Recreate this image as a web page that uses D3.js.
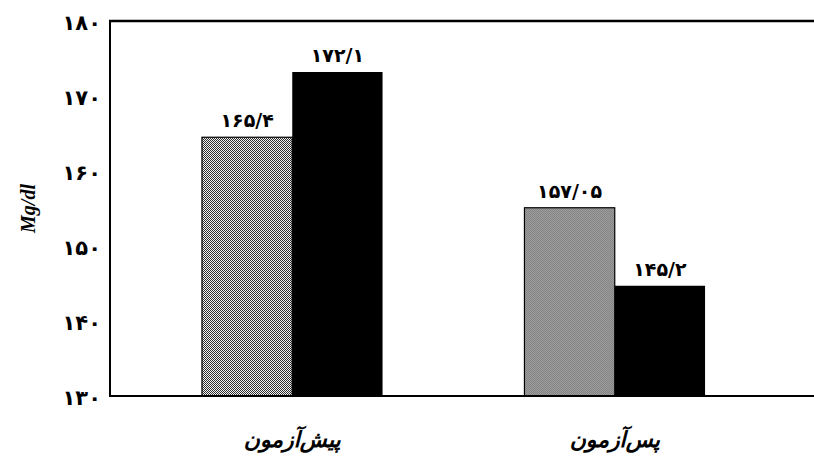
<!DOCTYPE html>
<html>
<head>
<meta charset="utf-8">
<script src="https://cdn.jsdelivr.net/npm/d3@7"></script>
<style>
  body { margin: 0; background: #fff; }
  svg { display: block; }
</style>
</head>
<body>
<svg id="chart"></svg>
<script>
// Chart data
const categories = ["پیش‌آزمون", "پس‌آزمون"];
const series = ["gray", "black"];
// bar heights as drawn in the picture
const grayValues = [164.5, 155.1];
const blackValues = [173.2, 144.7];
// value labels printed above the bars
const grayLabels = ["۱۶۵/۴", "۱۵۷/۰۵"];
const blackLabels = ["۱۷۲/۱", "۱۴۵/۲"];
const yTicks = [130, 140, 150, 160, 170, 180];
const yTickLabels = ["۱۳۰", "۱۴۰", "۱۵۰", "۱۶۰", "۱۷۰", "۱۸۰"];

const W = 814, H = 471;
let margin = {top: 21, right: 0, bottom: 75, left: 110};

let svg = d3.select("#chart").attr("width", W).attr("height", H);

// patterned gray fill
let defs = svg.append("defs");
let pat = defs.append("pattern")
    .attr("id", "dots")
    .attr("width", 2).attr("height", 2)
    .attr("patternUnits", "userSpaceOnUse");
pat.append("rect").attr("width", 2).attr("height", 2).attr("fill", "#fff");
pat.append("rect").attr("width", 1).attr("height", 1).attr("fill", "#222");
pat.append("rect").attr("x", 1).attr("y", 1).attr("width", 1).attr("height", 1).attr("fill", "#222");

// Scales
let y = d3.scaleLinear().domain([130, 180]).range([H - margin.bottom, margin.top]);
let x0 = d3.scaleBand().domain(categories).range([131, 776]).paddingInner(0.44).paddingOuter(0.22);
let x1 = d3.scaleBand().domain(series).range([0, x0.bandwidth()]);

// rows for bars
let rows = categories.map((c, i) => ({
    cat: c,
    bars: [
        {key: "gray", value: grayValues[i], label: grayLabels[i]},
        {key: "black", value: blackValues[i], label: blackLabels[i]}
    ]
}));

let groups = svg.selectAll(".grp")
    .data(rows)
    .enter().append("g")
    .attr("class", "grp")
    .attr("transform", d => "translate(" + x0(d.cat) + ",0)");

groups.selectAll("rect")
    .data(d => d.bars)
    .enter().append("rect")
    .attr("x", d => x1(d.key))
    .attr("y", d => y(d.value))
    .attr("width", x1.bandwidth())
    .attr("height", d => y(130) - y(d.value))
    .attr("fill", d => d.key === "gray" ? "url(#dots)" : "#000")
    .attr("stroke", d => d.key === "gray" ? "#000" : "none")
    .attr("stroke-width", 1.2);

groups.selectAll("text.val")
    .data(d => d.bars)
    .enter().append("text")
    .attr("class", "val")
    .attr("x", d => x1(d.key) + x1.bandwidth() / 2)
    .attr("y", d => y(d.value) - 10)
    .attr("text-anchor", "middle")
    .attr("font-family", "DejaVu Sans")
    .attr("font-weight", "bold")
    .attr("font-size", 19)
    .text(d => d.label);

// Axes frame: top, left, bottom lines
svg.append("line")
    .attr("x1", margin.left - 1).attr("x2", W)
    .attr("y1", y(180)).attr("y2", y(180))
    .attr("stroke", "#000").attr("stroke-width", 2.5);
svg.append("line")
    .attr("x1", margin.left).attr("x2", margin.left)
    .attr("y1", y(180)).attr("y2", y(130))
    .attr("stroke", "#000").attr("stroke-width", 2);
svg.append("line")
    .attr("x1", margin.left - 1).attr("x2", W)
    .attr("y1", y(130)).attr("y2", y(130))
    .attr("stroke", "#000").attr("stroke-width", 1.8);

// y axis tick labels
let yAxis = d3.axisLeft(y)
    .tickValues(yTicks)
    .tickSize(0)
    .tickPadding(9)
    .tickFormat((d, i) => yTickLabels[i]);
let ya = svg.append("g")
    .attr("transform", "translate(" + margin.left + ",0)")
    .call(yAxis);
ya.select(".domain").remove();
ya.selectAll("text")
    .attr("font-family", "DejaVu Sans")
    .attr("font-weight", "bold")
    .attr("font-size", 21)
    .attr("fill", "#000")
    .attr("dy", "0.4em");

// y axis title
svg.append("text")
    .attr("transform", "translate(35," + ((y(130) + y(180)) / 2) + ") rotate(-90)")
    .attr("text-anchor", "middle")
    .attr("font-family", "Liberation Serif")
    .attr("font-style", "italic")
    .attr("font-weight", "bold")
    .attr("font-size", 20)
    .text("Mg/dl");

// category labels
svg.selectAll("text.cat")
    .data(categories)
    .enter().append("text")
    .attr("class", "cat")
    .attr("x", d => x0(d) + x0.bandwidth() / 2)
    .attr("y", 447)
    .attr("text-anchor", "middle")
    .attr("direction", "rtl")
    .attr("font-family", "DejaVu Sans")
    .attr("font-weight", "bold")
    .attr("font-style", "italic")
    .attr("font-size", 22)
    .text(d => d);
</script>
</body>
</html>
